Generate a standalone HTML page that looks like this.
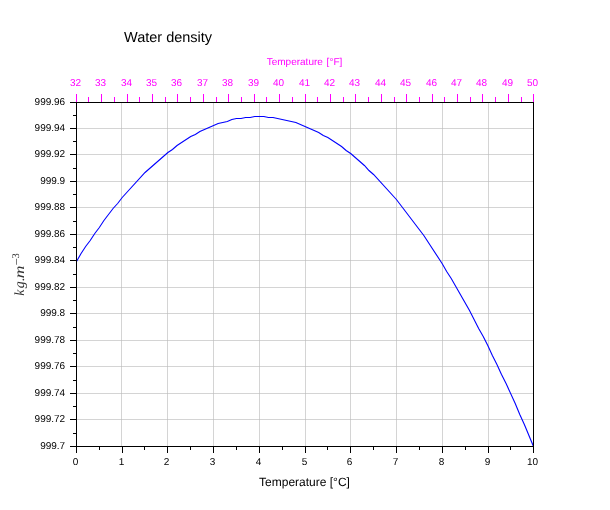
<!DOCTYPE html>
<html><head><meta charset="utf-8"><style>html,body{margin:0;padding:0;background:#fff;width:610px;height:510px;overflow:hidden}svg{display:block;will-change:transform}text{text-rendering:geometricPrecision}</style></head>
<body><svg width="610" height="510" viewBox="0 0 610 510"><path d="M121.5 103V446M167.5 103V446M213.5 103V446M259.5 103V446M305.5 103V446M350.5 103V446M396.5 103V446M442.5 103V446M488.5 103V446M77 128.5H533M77 154.5H533M77 181.5H533M77 207.5H533M77 234.5H533M77 260.5H533M77 287.5H533M77 313.5H533M77 340.5H533M77 366.5H533M77 393.5H533M77 419.5H533" stroke="#d4d4d4" stroke-width="1" fill="none"/>
<path d="M121 128h1v1h-1zM121 154h1v1h-1zM121 181h1v1h-1zM121 207h1v1h-1zM121 234h1v1h-1zM121 260h1v1h-1zM121 287h1v1h-1zM121 313h1v1h-1zM121 340h1v1h-1zM121 366h1v1h-1zM121 393h1v1h-1zM121 419h1v1h-1zM167 128h1v1h-1zM167 154h1v1h-1zM167 181h1v1h-1zM167 207h1v1h-1zM167 234h1v1h-1zM167 260h1v1h-1zM167 287h1v1h-1zM167 313h1v1h-1zM167 340h1v1h-1zM167 366h1v1h-1zM167 393h1v1h-1zM167 419h1v1h-1zM213 128h1v1h-1zM213 154h1v1h-1zM213 181h1v1h-1zM213 207h1v1h-1zM213 234h1v1h-1zM213 260h1v1h-1zM213 287h1v1h-1zM213 313h1v1h-1zM213 340h1v1h-1zM213 366h1v1h-1zM213 393h1v1h-1zM213 419h1v1h-1zM259 128h1v1h-1zM259 154h1v1h-1zM259 181h1v1h-1zM259 207h1v1h-1zM259 234h1v1h-1zM259 260h1v1h-1zM259 287h1v1h-1zM259 313h1v1h-1zM259 340h1v1h-1zM259 366h1v1h-1zM259 393h1v1h-1zM259 419h1v1h-1zM305 128h1v1h-1zM305 154h1v1h-1zM305 181h1v1h-1zM305 207h1v1h-1zM305 234h1v1h-1zM305 260h1v1h-1zM305 287h1v1h-1zM305 313h1v1h-1zM305 340h1v1h-1zM305 366h1v1h-1zM305 393h1v1h-1zM305 419h1v1h-1zM350 128h1v1h-1zM350 154h1v1h-1zM350 181h1v1h-1zM350 207h1v1h-1zM350 234h1v1h-1zM350 260h1v1h-1zM350 287h1v1h-1zM350 313h1v1h-1zM350 340h1v1h-1zM350 366h1v1h-1zM350 393h1v1h-1zM350 419h1v1h-1zM396 128h1v1h-1zM396 154h1v1h-1zM396 181h1v1h-1zM396 207h1v1h-1zM396 234h1v1h-1zM396 260h1v1h-1zM396 287h1v1h-1zM396 313h1v1h-1zM396 340h1v1h-1zM396 366h1v1h-1zM396 393h1v1h-1zM396 419h1v1h-1zM442 128h1v1h-1zM442 154h1v1h-1zM442 181h1v1h-1zM442 207h1v1h-1zM442 234h1v1h-1zM442 260h1v1h-1zM442 287h1v1h-1zM442 313h1v1h-1zM442 340h1v1h-1zM442 366h1v1h-1zM442 393h1v1h-1zM442 419h1v1h-1zM488 128h1v1h-1zM488 154h1v1h-1zM488 181h1v1h-1zM488 207h1v1h-1zM488 234h1v1h-1zM488 260h1v1h-1zM488 287h1v1h-1zM488 313h1v1h-1zM488 340h1v1h-1zM488 366h1v1h-1zM488 393h1v1h-1zM488 419h1v1h-1z" fill="#c4c4c4"/>
<polyline points="76.5,261.5 81.07,253.5 85.64,246.5 90.21,240.5 94.78,233.5 99.35,227.5 103.92,220.5 113.06,208.5 117.63,203.5 122.2,197.5 145.05,172.5 167.9,152.5 172.47,149.5 177.04,145.5 190.75,136.5 195.32,134.5 199.89,131.5 218.17,123.5 227.31,121.5 231.88,119.5 236.45,118.5 241.02,118.5 245.59,117.5 250.16,117.5 254.73,116.5 263.87,116.5 268.44,117.5 273.01,117.5 295.86,122.5 318.71,132.5 323.28,135.5 327.85,137.5 341.56,146.5 346.13,150.5 350.7,153.5 364.41,165.5 368.98,170.5 373.55,174.5 396.4,199.5 423.82,235.5 442.1,263.5 446.67,271.5 451.24,278.5 469.52,310.5 478.66,328.5 483.23,336.5 487.8,345.5 492.37,355.5 496.94,364.5 501.51,374.5 506.08,383.5 515.22,403.5 519.79,414.5 524.36,424.5 533.5,446.5" fill="none" stroke="#0000ff" stroke-width="1.1"/>
<path d="M76.5 102V447M533.5 102V447M76 102.5H534M76 446.5H534" stroke="#000" stroke-width="1" fill="none"/>
<path d="M70 102.5H76M70 128.5H76M70 154.5H76M70 181.5H76M70 207.5H76M70 234.5H76M70 260.5H76M70 287.5H76M70 313.5H76M70 340.5H76M70 366.5H76M70 393.5H76M70 419.5H76M70 446.5H76M73 115.5H76M73 141.5H76M73 168.5H76M73 194.5H76M73 221.5H76M73 247.5H76M73 274.5H76M73 300.5H76M73 327.5H76M73 353.5H76M73 380.5H76M73 406.5H76M73 433.5H76M76.5 446V453M122.5 446V453M167.5 446V453M213.5 446V453M259.5 446V453M305.5 446V453M350.5 446V453M396.5 446V453M442.5 446V453M488.5 446V453M533.5 446V453M99.5 446V450M144.5 446V450M190.5 446V450M236.5 446V450M282.5 446V450M327.5 446V450M373.5 446V450M419.5 446V450M465.5 446V450M510.5 446V450" stroke="#000" stroke-width="1" fill="none"/>
<path d="M76.5 94V102M101.5 94V102M127.5 94V102M152.5 94V102M177.5 94V102M203.5 94V102M228.5 94V102M254.5 94V102M279.5 94V102M305.5 94V102M330.5 94V102M355.5 94V102M381.5 94V102M406.5 94V102M432.5 94V102M457.5 94V102M482.5 94V102M508.5 94V102M533.5 94V102M88.5 97V102M114.5 97V102M139.5 97V102M165.5 97V102M190.5 97V102M216.5 97V102M241.5 97V102M266.5 97V102M292.5 97V102M317.5 97V102M343.5 97V102M368.5 97V102M394.5 97V102M419.5 97V102M444.5 97V102M470.5 97V102M495.5 97V102M521.5 97V102" stroke="#ff00ff" stroke-width="1" fill="none"/>
<text x="124" y="42" font-family="Liberation Sans, sans-serif" font-size="14.5" fill="#000">Water density</text>
<text x="304.5" y="64.6" font-family="Liberation Sans, sans-serif" font-size="10" fill="#ff00ff" text-anchor="middle" word-spacing="1" text-rendering="geometricPrecision">Temperature [°F]</text>
<g fill="#ff00ff" text-rendering="geometricPrecision" transform="translate(0 86.0) scale(1 1)"><text x="75.50" y="0" font-family="Liberation Sans, sans-serif" font-size="10" text-anchor="middle">32</text><text x="100.50" y="0" font-family="Liberation Sans, sans-serif" font-size="10" text-anchor="middle">33</text><text x="126.50" y="0" font-family="Liberation Sans, sans-serif" font-size="10" text-anchor="middle">34</text><text x="151.50" y="0" font-family="Liberation Sans, sans-serif" font-size="10" text-anchor="middle">35</text><text x="176.50" y="0" font-family="Liberation Sans, sans-serif" font-size="10" text-anchor="middle">36</text><text x="202.50" y="0" font-family="Liberation Sans, sans-serif" font-size="10" text-anchor="middle">37</text><text x="227.50" y="0" font-family="Liberation Sans, sans-serif" font-size="10" text-anchor="middle">38</text><text x="253.50" y="0" font-family="Liberation Sans, sans-serif" font-size="10" text-anchor="middle">39</text><text x="278.50" y="0" font-family="Liberation Sans, sans-serif" font-size="10" text-anchor="middle">40</text><text x="304.50" y="0" font-family="Liberation Sans, sans-serif" font-size="10" text-anchor="middle">41</text><text x="329.50" y="0" font-family="Liberation Sans, sans-serif" font-size="10" text-anchor="middle">42</text><text x="354.50" y="0" font-family="Liberation Sans, sans-serif" font-size="10" text-anchor="middle">43</text><text x="380.50" y="0" font-family="Liberation Sans, sans-serif" font-size="10" text-anchor="middle">44</text><text x="405.50" y="0" font-family="Liberation Sans, sans-serif" font-size="10" text-anchor="middle">45</text><text x="431.50" y="0" font-family="Liberation Sans, sans-serif" font-size="10" text-anchor="middle">46</text><text x="456.50" y="0" font-family="Liberation Sans, sans-serif" font-size="10" text-anchor="middle">47</text><text x="481.50" y="0" font-family="Liberation Sans, sans-serif" font-size="10" text-anchor="middle">48</text><text x="507.50" y="0" font-family="Liberation Sans, sans-serif" font-size="10" text-anchor="middle">49</text><text x="532.50" y="0" font-family="Liberation Sans, sans-serif" font-size="10" text-anchor="middle">50</text></g>
<text x="65.2" y="105.00" font-family="Liberation Sans, sans-serif" font-size="10" fill="#000" text-anchor="end">999.96</text>
<text x="65.2" y="131.00" font-family="Liberation Sans, sans-serif" font-size="10" fill="#000" text-anchor="end">999.94</text>
<text x="65.2" y="157.00" font-family="Liberation Sans, sans-serif" font-size="10" fill="#000" text-anchor="end">999.92</text>
<text x="65.2" y="184.00" font-family="Liberation Sans, sans-serif" font-size="10" fill="#000" text-anchor="end">999.9</text>
<text x="65.2" y="210.00" font-family="Liberation Sans, sans-serif" font-size="10" fill="#000" text-anchor="end">999.88</text>
<text x="65.2" y="237.00" font-family="Liberation Sans, sans-serif" font-size="10" fill="#000" text-anchor="end">999.86</text>
<text x="65.2" y="263.00" font-family="Liberation Sans, sans-serif" font-size="10" fill="#000" text-anchor="end">999.84</text>
<text x="65.2" y="290.00" font-family="Liberation Sans, sans-serif" font-size="10" fill="#000" text-anchor="end">999.82</text>
<text x="65.2" y="316.00" font-family="Liberation Sans, sans-serif" font-size="10" fill="#000" text-anchor="end">999.8</text>
<text x="65.2" y="343.00" font-family="Liberation Sans, sans-serif" font-size="10" fill="#000" text-anchor="end">999.78</text>
<text x="65.2" y="369.00" font-family="Liberation Sans, sans-serif" font-size="10" fill="#000" text-anchor="end">999.76</text>
<text x="65.2" y="396.00" font-family="Liberation Sans, sans-serif" font-size="10" fill="#000" text-anchor="end">999.74</text>
<text x="65.2" y="422.00" font-family="Liberation Sans, sans-serif" font-size="10" fill="#000" text-anchor="end">999.72</text>
<text x="65.2" y="449.00" font-family="Liberation Sans, sans-serif" font-size="10" fill="#000" text-anchor="end">999.7</text>
<text x="75.60" y="465" font-family="Liberation Sans, sans-serif" font-size="10" fill="#000" text-anchor="middle">0</text>
<text x="121.60" y="465" font-family="Liberation Sans, sans-serif" font-size="10" fill="#000" text-anchor="middle">1</text>
<text x="166.60" y="465" font-family="Liberation Sans, sans-serif" font-size="10" fill="#000" text-anchor="middle">2</text>
<text x="212.60" y="465" font-family="Liberation Sans, sans-serif" font-size="10" fill="#000" text-anchor="middle">3</text>
<text x="258.60" y="465" font-family="Liberation Sans, sans-serif" font-size="10" fill="#000" text-anchor="middle">4</text>
<text x="304.60" y="465" font-family="Liberation Sans, sans-serif" font-size="10" fill="#000" text-anchor="middle">5</text>
<text x="349.60" y="465" font-family="Liberation Sans, sans-serif" font-size="10" fill="#000" text-anchor="middle">6</text>
<text x="395.60" y="465" font-family="Liberation Sans, sans-serif" font-size="10" fill="#000" text-anchor="middle">7</text>
<text x="441.60" y="465" font-family="Liberation Sans, sans-serif" font-size="10" fill="#000" text-anchor="middle">8</text>
<text x="487.60" y="465" font-family="Liberation Sans, sans-serif" font-size="10" fill="#000" text-anchor="middle">9</text>
<text x="532.60" y="465" font-family="Liberation Sans, sans-serif" font-size="10" fill="#000" text-anchor="middle">10</text>
<text x="304.5" y="486" font-family="Liberation Sans, sans-serif" font-size="12" fill="#000" text-anchor="middle">Temperature [°C]</text>
<g transform="translate(24,295.3) rotate(-90)" fill="#333"><text x="-0.4" y="0" font-family="Liberation Serif, serif" font-style="italic" font-size="14">k</text><text x="7" y="0" font-family="Liberation Serif, serif" font-style="italic" font-size="14">g</text><text x="14.2" y="0" font-family="Liberation Serif, serif" font-style="italic" font-size="14">.</text><text x="17.1" y="0" font-family="Liberation Serif, serif" font-style="italic" font-size="14" transform="translate(17.1 0) scale(1.25 1) translate(-17.1 0)">m</text><text x="29.8" y="-3.3" font-family="Liberation Serif, serif" font-size="13">−</text><text x="36.8" y="-4.8" font-family="Liberation Serif, serif" font-size="10.5">3</text></g></svg></body></html>
